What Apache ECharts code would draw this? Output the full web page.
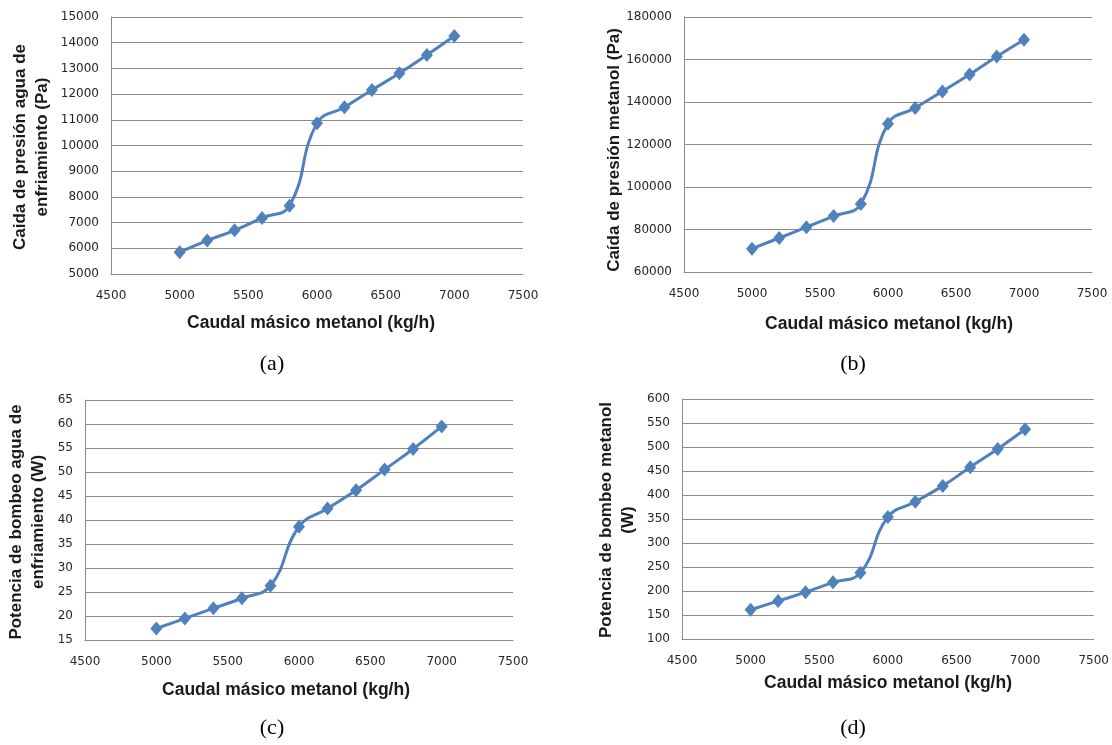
<!DOCTYPE html>
<html>
<head>
<meta charset="utf-8">
<script src="https://cdn.jsdelivr.net/npm/echarts@6/dist/echarts.min.js"></script>
<style>
html,body{margin:0;padding:0;background:#fff;}
#chart{width:1112px;height:745px;}
</style>
</head>
<body>
<div id="chart"></div>
<script>
// Data
const caudal = [5000, 5200, 5400, 5600, 5800, 6000, 6200, 6400, 6600, 6800, 7000];
const caidaAgua = [5850, 6300, 6700, 7180, 7660, 10870, 11490, 12160, 12810, 13520, 14260];
const caidaMetanol = [71000, 76000, 81100, 86300, 92000, 129800, 137200, 145000, 152900, 161400, 169300];
const potenciaAgua = [17.4, 19.5, 21.6, 23.7, 26.3, 38.6, 42.4, 46.2, 50.5, 54.8, 59.5];
const potenciaMetanol = [161, 179, 197.5, 218, 238, 354, 386, 419, 458, 496, 537];

const xTitle = 'Caudal másico metanol (kg/h)';
const yTitles = [
  'Caida de presión agua de\nenfriamiento (Pa)',
  'Caída de presión metanol (Pa)',
  'Potencia de bombeo agua de\nenfriamiento (W)',
  'Potencia de bombeo metanol\n(W)'
];
const panelLabels = ['(a)', '(b)', '(c)', '(d)'];
const yRanges = [[5000, 15000, 1000], [60000, 180000, 20000], [15, 65, 5], [100, 600, 50]];
const seriesData = [caidaAgua, caidaMetanol, potenciaAgua, potenciaMetanol];

const grids = [
  {left: 111, top: 17, width: 412, height: 257},
  {left: 684, top: 17, width: 408, height: 255},
  {left: 85, top: 400, width: 428, height: 240},
  {left: 682, top: 399, width: 416, height: 240}
];
const xTitlePos = [[311, 323], [889, 324], [286, 690], [888, 683]];
const yTitlePos = [[31, 147], [614, 150], [27, 522], [617, 520]];
const labelPos = [[272, 364], [853, 364], [272, 728], [853, 728]];

const lineColor = '#4F81BD';
const gridColor = '#8C8C8C';
const tickFont = {fontFamily: 'DejaVu Sans', fontSize: 12, color: '#262626',
  formatter: v => String(v)};

const xAxes = [], yAxes = [], series = [], graphics = [];
for (let i = 0; i < 4; i++) {
  xAxes.push({
    type: 'value', gridIndex: i, min: 4500, max: 7500, interval: 500,
    axisLine: {show: true, onZero: false, lineStyle: {color: gridColor, width: 1}},
    axisTick: {show: false},
    splitLine: {show: false},
    axisLabel: Object.assign({margin: 16}, tickFont)
  });
  yAxes.push({
    type: 'value', gridIndex: i, min: yRanges[i][0], max: yRanges[i][1], interval: yRanges[i][2],
    axisLine: {show: true, lineStyle: {color: gridColor, width: 1}},
    axisTick: {show: false},
    splitLine: {show: true, lineStyle: {color: gridColor, width: 1}},
    axisLabel: Object.assign({margin: 12}, tickFont)
  });
  series.push({
    type: 'line', xAxisIndex: i, yAxisIndex: i,
    data: caudal.map((x, k) => [x, seriesData[i][k]]),
    smooth: 0.45,
    symbol: 'diamond', symbolSize: [12, 14],
    lineStyle: {color: lineColor, width: 3},
    itemStyle: {color: lineColor},
    animation: false
  });
  graphics.push({
    type: 'text', x: xTitlePos[i][0], y: xTitlePos[i][1],
    style: {text: xTitle, font: 'bold 17.5px "Liberation Sans", Arial, sans-serif', fill: '#1a1a1a',
      textAlign: 'center', textVerticalAlign: 'middle'}
  });
  graphics.push({
    type: 'text', x: yTitlePos[i][0], y: yTitlePos[i][1], rotation: Math.PI / 2,
    style: {text: yTitles[i], font: 'bold 17px "Liberation Sans", Arial, sans-serif', fill: '#1a1a1a',
      textAlign: 'center', textVerticalAlign: 'middle', lineHeight: 22}
  });
  graphics.push({
    type: 'text', x: labelPos[i][0], y: labelPos[i][1],
    style: {text: panelLabels[i], font: '22px "Liberation Serif", "Times New Roman", serif', fill: '#000',
      textAlign: 'center', textVerticalAlign: 'middle'}
  });
}

const chart = echarts.init(document.getElementById('chart'), null, {renderer: 'canvas'});
chart.setOption({
  backgroundColor: '#ffffff',
  animation: false,
  grid: grids,
  xAxis: xAxes,
  yAxis: yAxes,
  series: series,
  graphic: graphics
});
</script>
</body>
</html>
